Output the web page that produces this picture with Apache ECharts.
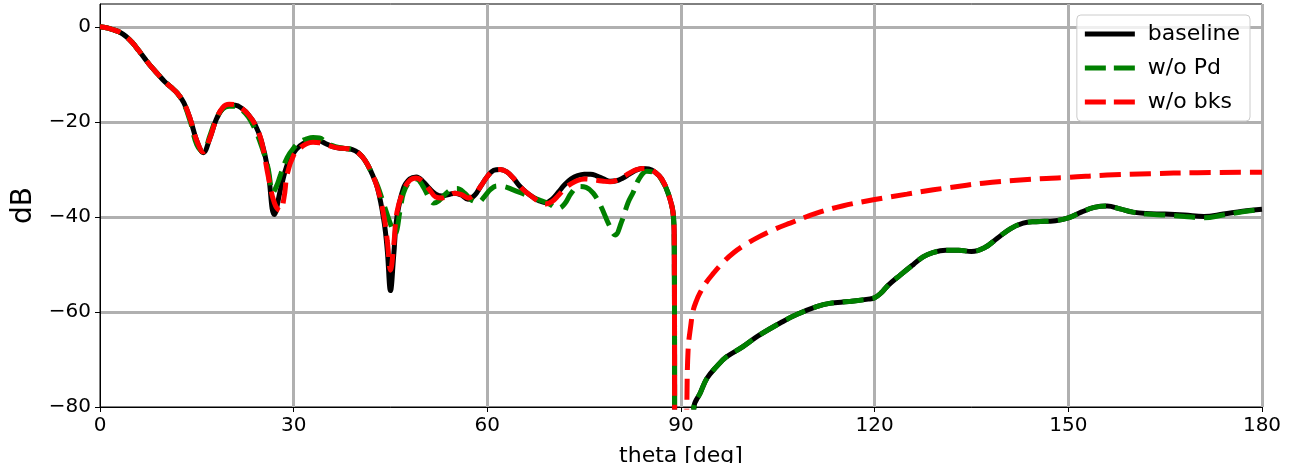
<!DOCTYPE html>
<html>
<head>
<meta charset="utf-8">
<script src="https://cdn.jsdelivr.net/npm/echarts@6/dist/echarts.min.js"></script>
<style>
  html, body { margin: 0; padding: 0; background: #fff; }
  #chart { width: 1293px; height: 463px; }
</style>
</head>
<body>
<div id="chart"></div>
<script>
// theta [deg] / dB
var thetaBase = [0, 1, 2, 3, 4, 5, 6, 7, 8, 9, 10, 11, 12, 13, 14, 15, 16, 17, 18, 19, 20, 21, 22, 23, 24, 25, 26, 27, 28, 29, 30,
  31, 32, 33, 34, 35, 36, 37, 38, 39, 40, 41, 42, 43, 44, 44.5, 45, 45.5, 46, 47, 48, 49, 50, 51, 52, 53, 54, 55, 56, 57, 58, 59, 60,
  61, 62, 63, 64, 65, 66, 67, 68, 69, 70, 71, 72, 73, 74, 75, 76, 77, 78, 79, 80, 81, 82, 83, 84, 85, 86, 87, 88, 88.8, 88.95, 89.1,
  91.6, 92, 93, 94, 95.5, 97, 99.6, 102, 105.8, 108, 111, 113, 116, 119, 120, 121, 122, 124, 126, 127.5, 129, 131, 133, 135, 137, 139,
  141, 143, 145, 148, 150, 152, 154, 156, 158, 160, 162, 165, 168, 171, 174, 177, 180]
var dbBase = [0, -0.2, -0.6, -1.1, -2.0, -3.3, -5.0, -6.8, -8.5, -10.0, -11.5, -12.7, -14.0, -16.0, -19.5, -24.0, -26.5, -23.5, -19.5, -17.2, -16.5, -16.5, -17.2, -18.5, -20.5, -24, -30, -39.5, -34, -29, -26.5,
  -25, -24.2, -23.9, -24.0, -24.6, -25.2, -25.5, -25.6, -25.8, -26.5, -28, -30.5, -34, -41, -47, -55.5, -48, -40, -34, -32, -31.6, -32.5, -34, -35.2, -35.6, -35.3, -35.0, -35.4, -36.3, -35.5, -33.5, -31.5,
  -30.2, -30.0, -30.5, -31.8, -33.5, -34.8, -35.8, -36.6, -37.0, -36.3, -34.8, -33.2, -32.0, -31.3, -31.0, -31.0, -31.4, -32.0, -32.5, -32.4, -31.8, -31.0, -30.2, -29.8, -29.9, -30.6, -32.0, -35, -39.5, -45, -100,
  -100, -80, -77, -74, -71.5, -69.5, -67.3, -65, -62, -60.5, -58.9, -58.2, -57.8, -57.3, -57, -56, -54.5, -52.2, -50, -48.4, -47.5, -47.0, -47.0, -47.3, -46.5, -44.5,
  -42.5, -41.3, -41.0, -40.8, -40.2, -39, -38, -37.7, -38.3, -39, -39.3, -39.4, -39.6, -39.9, -39.4, -38.8, -38.4]

var thetaPd = [0, 1, 2, 3, 4, 5, 6, 7, 8, 9, 10, 11, 12, 13, 14, 15, 16, 17, 18, 19, 20, 21, 22, 23, 24, 25, 26, 26.8, 27.5, 28, 29, 30,
  31, 32, 33, 34, 35, 36, 37, 38, 39, 40, 41, 42, 43, 44, 45, 45.7, 46.5, 47, 48, 49, 50, 51, 51.7, 52.5, 53.5, 54.5, 55.3, 56.5, 57.5, 58.6, 59.5, 60.5,
  61.5, 62.5, 64, 66, 68, 69.5, 71, 72, 73, 74.2, 75.3, 76.4, 77.5, 78.8, 79.8, 80.8, 81.8, 82.6, 83.5, 84.7, 86, 87, 88, 88.8, 88.95, 89.1,
  91.6, 92, 93, 94, 95.5, 97, 99.6, 102, 105.8, 108, 111, 113, 116, 119, 120, 121, 122, 124, 126, 127.5, 129, 131, 133, 135, 137, 139,
  141, 143, 145, 148, 150, 152, 154, 156, 158, 160, 162, 165, 168, 171, 174, 177, 180]
var dbPd = [0, -0.2, -0.6, -1.1, -2.0, -3.3, -5.0, -6.8, -8.5, -10.0, -11.5, -12.7, -14.0, -16.2, -20, -24.8, -26.3, -23, -19.3, -17.3, -16.7, -16.7, -17.5, -19, -21.5, -25, -29.5, -34.8, -33, -31, -27.5, -25.5,
  -24.2, -23.6, -23.3, -23.4, -24.3, -25, -25.4, -25.6, -25.8, -26.5, -28, -30.5, -33.5, -37.5, -41.5, -43.5, -38.5, -35, -32.5, -32, -33.5, -36, -37.1, -36.6, -35.2, -34.2, -34.0, -35, -36.4, -36.9, -35.8, -34.2,
  -33.5, -33.6, -34.3, -35.4, -36.4, -37.2, -38.2, -37.2, -35, -33.6, -33.8, -35, -37.5, -41.5, -43.8, -41, -37, -34.8, -32, -30.4, -30.8, -32.2, -35, -39.5, -45, -100,
  -100, -80, -77, -74, -71.5, -69.5, -67.3, -65, -62, -60.5, -58.9, -58.2, -57.8, -57.3, -57, -56, -54.5, -52.2, -50, -48.4, -47.5, -47.0, -47.0, -47.3, -46.5, -44.5,
  -42.5, -41.3, -41.0, -40.8, -40.2, -39, -38, -37.7, -38.3, -39, -39.4, -39.6, -39.9, -40.2, -39.6, -38.9, -38.4]

var thetaBks = [0, 1, 2, 3, 4, 5, 6, 7, 8, 9, 10, 11, 12, 13, 14, 15, 16, 17, 18, 19, 20, 21, 22, 23, 24, 25, 26, 27, 27.9, 28.5, 29, 30,
  31, 32, 33, 34, 35, 36, 37, 38, 39, 40, 41, 42, 43, 44, 44.5, 45, 45.5, 46, 47, 48, 49, 50, 51, 52, 53, 54, 55, 56, 57, 58, 59, 60,
  61, 62, 63, 64, 65, 66, 67, 68, 69, 70, 71, 72, 73, 74, 75, 76, 77, 78, 79, 80, 81, 82, 83, 84, 85, 86, 87, 88, 88.8, 88.95, 89.1,
  90.7, 90.9, 91.1, 91.5, 91.9, 92.4, 92.9, 93.8, 95, 96.5, 98.1, 100, 102.2, 104.5, 106.9, 111, 115, 119.8, 125, 129.1, 131.7, 136.8, 142, 146.6, 150, 156, 162.6, 170, 180]
var dbBks = [0, -0.2, -0.6, -1.1, -2.0, -3.3, -5.0, -6.8, -8.5, -10.0, -11.5, -12.7, -14.0, -16.0, -19.5, -24.0, -26.3, -23.5, -19.5, -17.0, -16.3, -16.4, -17.2, -18.5, -20.5, -24, -31, -37, -38.7, -36, -31, -27,
  -25.5, -24.6, -24.3, -24.4, -24.8, -25.2, -25.5, -25.6, -25.8, -26.5, -28, -30.5, -34, -40, -45, -51.2, -46, -39, -34.5, -32.3, -31.8, -32.6, -34.2, -35.8, -36.0, -35.5, -35.0, -35.3, -36.0, -35.3, -33.5, -31.5,
  -30.2, -30.0, -30.5, -31.8, -33.5, -34.8, -35.8, -36.8, -37.3, -36.8, -35.5, -34, -33, -32.3, -32, -32.1, -32.3, -32.5, -32.6, -32.3, -31.6, -30.8, -30.1, -29.8, -29.9, -30.6, -32.0, -35, -39.5, -45, -100,
  -100, -80, -68, -63, -59.6, -57.6, -56.1, -54, -51.9, -49.6, -47.6, -45.8, -44.1, -42.6, -41.3, -39.2, -37.7, -36.4, -35.2, -34.3, -33.8, -32.9, -32.3, -31.9, -31.7, -31.2, -30.9, -30.7, -30.6]

var xTicks = [0, 30, 60, 90, 120, 150, 180]
var yTicks = [-80, -60, -40, -20, 0]

function pairs(xs, ys) {
  return xs.map(function (x, i) { return [x, ys[i]] })
}

var solidIcon = 'path://M0,0H50V5H0Z'
var dashIcon = 'path://M0,0H21V5H0Z M29,0H50V5H29Z'

var chart = echarts.init(document.getElementById('chart'))
var font = 'DejaVu Sans'
var option = {
  backgroundColor: '#fff',
  animation: false,
  textStyle: { fontFamily: font },
  grid: {
    left: 100,
    right: 31,
    top: 4,
    bottom: 56,
    containLabel: false,
    outerBoundsMode: 'none',
    show: true,
    borderColor: '#000',
    borderWidth: 1,
    backgroundColor: 'transparent'
  },
  legend: {
    orient: 'vertical',
    right: 43,
    top: 15,
    data: [
      { name: 'baseline', icon: solidIcon },
      { name: 'w/o Pd', icon: dashIcon },
      { name: 'w/o bks', icon: dashIcon }
    ],
    itemWidth: 50,
    itemHeight: 5,
    itemGap: 8,
    padding: [6, 10, 6, 8],
    borderColor: '#ccc',
    borderWidth: 1,
    borderRadius: 4,
    backgroundColor: 'rgba(255,255,255,0.8)',
    textStyle: { fontSize: 22, lineHeight: 26, color: '#000', fontFamily: font, padding: [0, 0, 0, 8] }
  },
  xAxis: {
    type: 'value',
    min: 0,
    max: 180,
    interval: 30,
    name: 'theta [deg]',
    nameLocation: 'middle',
    nameGap: 38,
    nameTextStyle: { fontSize: 22, color: '#000', fontFamily: font },
    axisLine: { onZero: false, lineStyle: { color: '#000', width: 1 } },
    axisTick: { show: true, length: 5, lineStyle: { color: '#000' } },
    axisLabel: {
      fontSize: 20, color: '#000', margin: 9, fontFamily: font,
      formatter: function (v) { return xTicks.indexOf(v) >= 0 ? String(v) : '' }
    },
    splitLine: { show: true, showMinLine: false, lineStyle: { color: '#b0b0b0', width: 3 } }
  },
  yAxis: {
    type: 'value',
    min: -80,
    max: 4.8,
    interval: 20,
    name: 'dB',
    nameLocation: 'middle',
    nameGap: 60,
    nameTextStyle: { fontSize: 28, color: '#000', fontFamily: font },
    axisLine: { show: true, onZero: false, lineStyle: { color: '#000', width: 1 } },
    axisTick: { show: true, length: 5, lineStyle: { color: '#000' } },
    axisLabel: {
      fontSize: 20, color: '#000', margin: 9, fontFamily: font, showMaxLabel: false,
      formatter: function (v) { return yTicks.indexOf(v) >= 0 ? String(v).replace('-', '\u2212') : '' }
    },
    splitLine: { show: true, showMinLine: false, showMaxLine: false, lineStyle: { color: '#b0b0b0', width: 3 } }
  },
  series: [
    {
      name: 'baseline',
      type: 'line',
      data: pairs(thetaBase, dbBase),
      showSymbol: false,
      symbol: 'none',
      smooth: 0.4,
      clip: true,
      color: '#000',
      lineStyle: { color: '#000', width: 5 }
    },
    {
      name: 'w/o Pd',
      type: 'line',
      data: pairs(thetaPd, dbPd),
      showSymbol: false,
      symbol: 'none',
      smooth: 0.4,
      clip: true,
      color: '#008000',
      lineStyle: { color: '#008000', width: 5, type: [21, 9] }
    },
    {
      name: 'w/o bks',
      type: 'line',
      data: pairs(thetaBks, dbBks),
      showSymbol: false,
      symbol: 'none',
      smooth: 0.4,
      clip: true,
      color: '#ff0000',
      lineStyle: { color: '#ff0000', width: 5, type: [21, 9] }
    }
  ]
}
chart.setOption(option)
</script>
</body>
</html>
